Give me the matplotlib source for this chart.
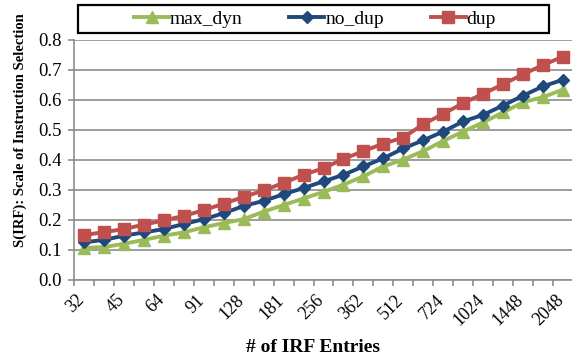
import matplotlib
matplotlib.use("Agg")
import matplotlib.pyplot as plt
from matplotlib.lines import Line2D
from matplotlib.patches import Rectangle
import numpy as np

entries = [32, 38, 45, 54, 64, 76, 91, 108, 128, 152, 181, 215, 256, 304,
           362, 431, 512, 609, 724, 861, 1024, 1218, 1448, 1722, 2048]
max_dyn = [0.105, 0.108, 0.119, 0.132, 0.146, 0.157, 0.174, 0.188, 0.201,
           0.226, 0.248, 0.270, 0.292, 0.316, 0.344, 0.377, 0.400, 0.428,
           0.462, 0.493, 0.524, 0.557, 0.591, 0.608, 0.633]
no_dup = [0.124, 0.132, 0.146, 0.157, 0.168, 0.185, 0.201, 0.221, 0.245,
          0.262, 0.284, 0.305, 0.327, 0.349, 0.377, 0.404, 0.437, 0.464,
          0.493, 0.527, 0.549, 0.580, 0.613, 0.644, 0.666]
dup = [0.148, 0.158, 0.168, 0.183, 0.197, 0.212, 0.231, 0.253, 0.275,
       0.297, 0.322, 0.349, 0.371, 0.402, 0.428, 0.453, 0.473, 0.518,
       0.552, 0.588, 0.619, 0.651, 0.684, 0.715, 0.743]
yticks = [0.0, 0.1, 0.2, 0.3, 0.4, 0.5, 0.6, 0.7, 0.8]

plt.rcParams['font.family'] = ['Liberation Serif', 'DejaVu Serif']

W, H = 572, 362
fig = plt.figure(figsize=(W/100, H/100), dpi=100)
L, R, T, B = 74, 573, 39.5, 279.5
ax = fig.add_axes([L/W, 1-B/H, (R-L)/W, (B-T)/H])

x = np.arange(len(entries))
styles = [
    ("max_dyn", max_dyn, "#9BBB59", "^", 8.5),
    ("no_dup", no_dup, "#1F497D", "D", 6.5),
    ("dup", dup, "#C0504D", "s", 8),
]
handles = []
for name, vals, col, mk, ms in styles:
    ax.plot(x, vals, color=col, lw=2.8, marker=mk, ms=ms, mfc=col, mec=col,
            zorder=3, clip_on=False)
    handles.append(Line2D([0], [0], color=col, lw=2.8, marker=mk, ms=ms, mfc=col, mec=col))

ax.set_xlim(-0.5, len(entries) - 0.5)
ax.set_ylim(0, 0.8)
ax.set_yticks(yticks)
ax.set_yticklabels([f"{v:.1f}" for v in yticks], fontsize=13.5)
ax.grid(axis='y', color='#8c8c8c', lw=1.2, zorder=0)
ax.set_axisbelow(True)

# category labels (every other category), placed under the category centres
ax.set_xticks([])
for xi, e in zip(x[::2], entries[::2]):
    ax.annotate(str(e), xy=(xi, 0), xycoords=('data', 'axes fraction'),
                xytext=(-8, -12), textcoords='offset pixels',
                rotation=45, rotation_mode='anchor', ha='right', va='top',
                fontsize=13, annotation_clip=False)
ax.set_xticks(np.arange(len(entries) + 1) - 0.5, minor=True)
ax.tick_params(axis='x', which='minor', length=4, width=1.2, color='#8c8c8c',
               direction='out', labelbottom=False)
ax.tick_params(axis='y', length=4, width=1.2, color='#8c8c8c', direction='out', pad=5)

for s in ['top', 'right']:
    ax.spines[s].set_visible(False)
for s in ['left', 'bottom']:
    ax.spines[s].set_color('#8c8c8c')
    ax.spines[s].set_linewidth(1.2)

ax.set_ylabel("S(IRF): Scale of Instruction Selection", fontsize=10.5,
              fontweight='bold')
ax.yaxis.set_label_coords((20 - L) / (R - L), (B - 130) / (B - T))
ax.set_xlabel("# of IRF Entries", fontsize=14, fontweight='bold')
ax.xaxis.set_label_coords((313 - L) / (R - L), (B - 348) / (B - T))
ax.xaxis.label.set_va('center')
ax.yaxis.label.set_va('center')

fig.patches.append(Rectangle((78/W, 1-33/H), (549-78)/W, 28/H, transform=fig.transFigure,
                             fill=False, edgecolor='black', lw=1.6, zorder=5))
leg = fig.legend(handles, [s[0] for s in styles], ncol=3, loc='center',
                 bbox_to_anchor=(315/W, 1-19/H), frameon=False,
                 fontsize=14, handlelength=1.8, handletextpad=0.05,
                 columnspacing=2.4, borderpad=0.2)

fig.savefig("out.png", dpi=100)
